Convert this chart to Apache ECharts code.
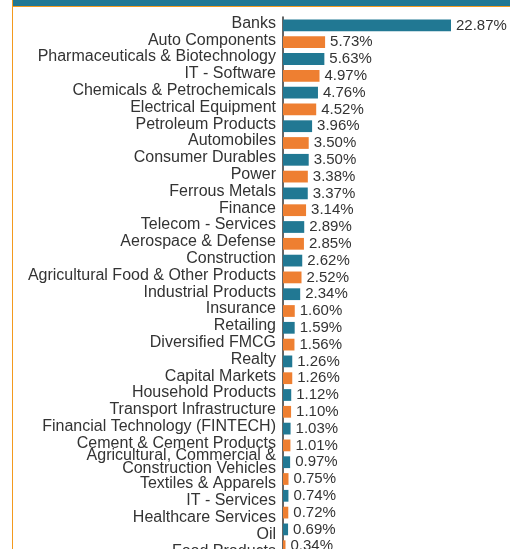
<!DOCTYPE html>
<html>
<head>
<meta charset="utf-8">
<script src="https://cdn.jsdelivr.net/npm/echarts@6/dist/echarts.min.js"></script>
<style>
  html, body { margin: 0; padding: 0; width: 510px; height: 549px; overflow: hidden; background: #fff; }
  .box {
    position: absolute;
    left: 12px;
    top: 0;
    width: 520px;
    height: 600px;
    border-left: 1.5px solid #f39a1e;
  }
  .head {
    height: 6px;
    background: #217893;
    border-bottom: 1.5px solid #f39a1e;
  }
  #chart {
    position: absolute;
    left: 0;
    top: 0;
    width: 510px;
    height: 570px;
  }
</style>
</head>
<body>
<div class="box">
  <div class="head"></div>
</div>
<div id="chart"></div>
<script>
// sector names, top to bottom
var sectors = [
  "Banks",
  "Auto Components",
  "Pharmaceuticals & Biotechnology",
  "IT - Software",
  "Chemicals & Petrochemicals",
  "Electrical Equipment",
  "Petroleum Products",
  "Automobiles",
  "Consumer Durables",
  "Power",
  "Ferrous Metals",
  "Finance",
  "Telecom - Services",
  "Aerospace & Defense",
  "Construction",
  "Agricultural Food & Other Products",
  "Industrial Products",
  "Insurance",
  "Retailing",
  "Diversified FMCG",
  "Realty",
  "Capital Markets",
  "Household Products",
  "Transport Infrastructure",
  "Financial Technology (FINTECH)",
  "Cement & Cement Products",
  "Agricultural, Commercial &\nConstruction Vehicles",
  "Textiles & Apparels",
  "IT - Services",
  "Healthcare Services",
  "Oil",
  "Food Products"
];
// weight in %
var weights = [
  22.87, 5.73, 5.63, 4.97, 4.76, 4.52, 3.96, 3.50, 3.50, 3.38, 3.37,
  3.14, 2.89, 2.85, 2.62, 2.52, 2.34, 1.60, 1.59, 1.56, 1.26, 1.26,
  1.12, 1.10, 1.03, 1.01, 0.97, 0.75, 0.74, 0.72, 0.69, 0.34
];
var barColors = ["#217893", "#ee7f31"];

var font = "'Liberation Sans', Arial, Helvetica, sans-serif";
var txt = { fontSize: 16, color: "#333", fontFamily: font, lineHeight: 13 };

// labels below the wrapped one sit a little lower, as in the original
function catLabel(v, i) {
  if (v.indexOf("\n") >= 0) {
    var parts = v.split("\n");
    return "{w|" + parts[0] + "}\n{w|" + parts[1] + "}";
  }
  if (i > 26) return "{low|" + v + "}";
  return "{t|" + v + "}";
}

var myChart = echarts.init(document.getElementById("chart"));
myChart.setOption({
  animation: false,
  grid: {
    left: 283,
    right: 59,
    top: 17,
    height: 537.6
  },
  xAxis: {
    type: "value",
    min: 0,
    max: "dataMax",
    show: false
  },
  yAxis: {
    type: "category",
    inverse: true,
    data: sectors,
    axisLine: { show: true, lineStyle: { color: "#333", width: 1.5 } },
    axisTick: { show: false },
    axisLabel: {
      interval: 0,
      margin: 7,
      fontSize: 16,
      lineHeight: 13,
      color: "#333",
      fontFamily: font,
      formatter: catLabel,
      rich: {
        t: Object.assign({ padding: [0, 0, 4, 0] }, txt),
        w: Object.assign({}, txt),
        low: Object.assign({ padding: [10, 0, 0, 0] }, txt)
      }
    }
  },
  series: [
    {
      type: "bar",
      data: weights,
      barCategoryGap: "30%",
      itemStyle: {
        color: function (p) { return barColors[p.dataIndex % 2]; }
      },
      label: {
        show: true,
        position: "right",
        distance: 5,
        fontSize: 15,
        color: "#333",
        fontFamily: font,
        formatter: function (p) { return p.value.toFixed(2) + "%"; }
      }
    }
  ]
});
</script>
</body>
</html>
